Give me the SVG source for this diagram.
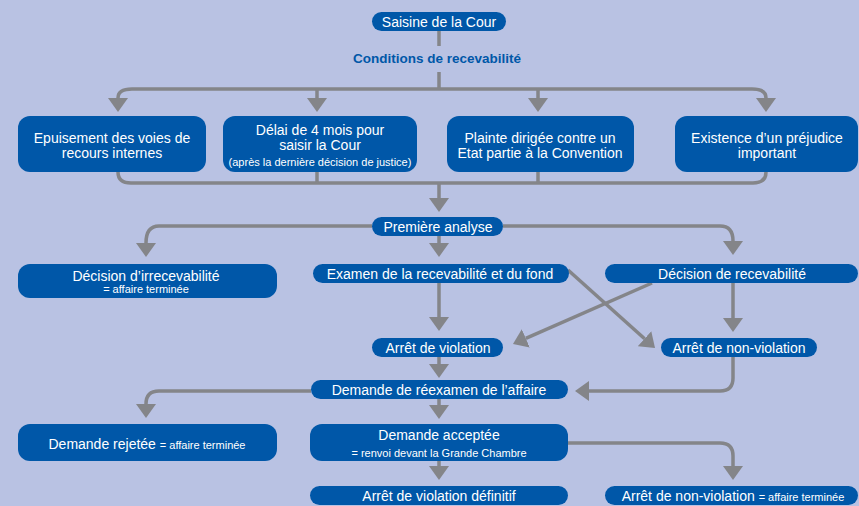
<svg xmlns="http://www.w3.org/2000/svg" width="859" height="506" viewBox="0 0 859 506">
<defs>
<style>
.n{fill:#0057A8}
.t{fill:#fff;font-family:"Liberation Sans",Arial,sans-serif;font-size:14px;text-anchor:middle}
.s{font-size:11px}
.c{fill:none;stroke:#848589;stroke-width:3.5}
.h{fill:#0057A8;font-family:"Liberation Sans",Arial,sans-serif;font-size:13.5px;font-weight:bold;text-anchor:middle}
</style>
<marker id="a" viewBox="0 0 14 20" markerWidth="14" markerHeight="20" refX="0" refY="10" markerUnits="userSpaceOnUse" orient="auto">
<path d="M0,0 L14,10 L0,20 Z" fill="#848589"/>
</marker>
</defs>
<rect width="859" height="506" fill="#B9C2E3"/>

<g id="connectors">
<path class="c" d="M439,31 V46"/>
<path class="c" d="M439,72 V89"/>
<path class="c" d="M439,89 H132 Q118,89 118,98" marker-end="url(#a)"/>
<path class="c" d="M439,89 H752 Q766,89 766,98" marker-end="url(#a)"/>
<path class="c" d="M317,89 V98" marker-end="url(#a)"/>
<path class="c" d="M538,89 V98" marker-end="url(#a)"/>
<path class="c" d="M118,172 Q118,183 131,183 H753 Q766,183 766,172"/>
<path class="c" d="M317,172 V183"/>
<path class="c" d="M538,172 V183"/>
<path class="c" d="M439,183 V198" marker-end="url(#a)"/>
<path class="c" d="M372,226 H159 Q146,226 146,243" marker-end="url(#a)"/>
<path class="c" d="M503,226 H720 Q733,226 733,241" marker-end="url(#a)"/>
<path class="c" d="M439,236 V243" marker-end="url(#a)"/>
<path class="c" d="M439,283 V317" marker-end="url(#a)"/>
<path class="c" d="M733,283 V318" marker-end="url(#a)"/>
<path class="c" d="M568,270 L644.6,338.7" marker-end="url(#a)"/>
<path class="c" d="M652,283 L525.8,338.4" marker-end="url(#a)"/>
<path class="c" d="M439,357 V364" marker-end="url(#a)"/>
<path class="c" d="M733,357 V378 Q733,391 720,391 H589" marker-end="url(#a)"/>
<path class="c" d="M311,391 H159 Q146,391 146,404" marker-end="url(#a)"/>
<path class="c" d="M439,399 V405" marker-end="url(#a)"/>
<path class="c" d="M568,443 H720 Q733,443 733,456 V466" marker-end="url(#a)"/>
<path class="c" d="M439,461 V466" marker-end="url(#a)"/>
</g>

<g id="saisine"><rect class="n" x="372" y="12" width="134" height="19" rx="9.5"/><text class="t" x="439" y="27">Saisine de la Cour</text></g>
<g id="conditions"><text class="h" x="437" y="63">Conditions de recevabilité</text></g>

<g id="epuisement"><rect class="n" x="18" y="116" width="188" height="56" rx="12"/><text class="t" x="112" y="143">Epuisement des voies de</text><text class="t" x="112" y="158">recours internes</text></g>
<g id="delai"><rect class="n" x="223" y="116" width="194" height="56" rx="12"/><text class="t" x="320" y="135">Délai de 4 mois pour</text><text class="t" x="320" y="150">saisir la Cour</text><text class="t s" x="320" y="166">(après la dernière décision de justice)</text></g>
<g id="plainte"><rect class="n" x="447" y="116" width="187" height="56" rx="12"/><text class="t" x="540" y="143">Plainte dirigée contre un</text><text class="t" x="540" y="158">Etat partie à la Convention</text></g>
<g id="prejudice"><rect class="n" x="675" y="116" width="183" height="56" rx="12"/><text class="t" x="767" y="143">Existence d’un préjudice</text><text class="t" x="767" y="158">important</text></g>

<g id="premiere"><rect class="n" x="372" y="217" width="131" height="19" rx="9.5"/><text class="t" x="438" y="232">Première analyse</text></g>

<g id="irrecevabilite"><rect class="n" x="18" y="264" width="259" height="34" rx="12"/><text class="t" x="146" y="281">Décision d’irrecevabilité</text><text class="t s" x="146" y="293">= affaire terminée</text></g>
<g id="examen"><rect class="n" x="313" y="264" width="256" height="19" rx="9.5"/><text class="t" x="440" y="279">Examen de la recevabilité et du fond</text></g>
<g id="recevabilite"><rect class="n" x="605" y="264" width="253" height="19" rx="9.5"/><text class="t" x="732" y="279">Décision de recevabilité</text></g>

<g id="violation"><rect class="n" x="372" y="338" width="131" height="19" rx="9.5"/><text class="t" x="438" y="353">Arrêt de violation</text></g>
<g id="nonviolation"><rect class="n" x="661" y="338" width="156" height="19" rx="9.5"/><text class="t" x="739" y="353">Arrêt de non-violation</text></g>

<g id="reexamen"><rect class="n" x="311" y="380" width="257" height="19" rx="9.5"/><text class="t" x="439" y="395">Demande de réexamen de l’affaire</text></g>

<g id="rejetee"><rect class="n" x="18" y="424" width="259" height="37" rx="12"/><text class="t" x="147" y="449">Demande rejetée <tspan class="s">= affaire terminée</tspan></text></g>
<g id="acceptee"><rect class="n" x="310" y="424" width="258" height="37" rx="12"/><text class="t" x="439" y="440">Demande acceptée</text><text class="t s" x="439" y="457">= renvoi devant la Grande Chambre</text></g>

<g id="definitif"><rect class="n" x="310" y="486" width="258" height="19" rx="9.5"/><text class="t" x="439" y="501">Arrêt de violation définitif</text></g>
<g id="nonviolation-fin"><rect class="n" x="605" y="486" width="253" height="19" rx="9.5"/><text class="t" x="733" y="501">Arrêt de non-violation <tspan class="s">= affaire terminée</tspan></text></g>
</svg>
